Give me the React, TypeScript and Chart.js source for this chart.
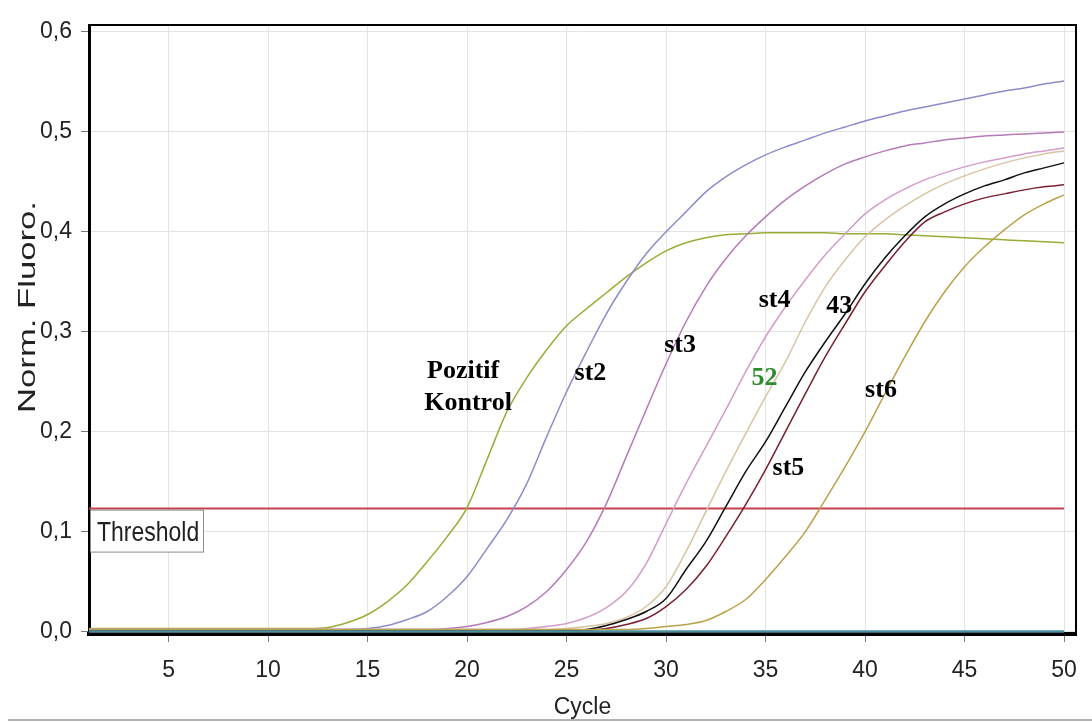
import React, { useEffect, useRef } from "react";
import { Chart, registerables } from "chart.js";

Chart.register(...registerables);

// ---------- data ----------
const cycles = [
  1, 2, 3, 4, 5, 6, 7, 8, 9, 10, 11, 12, 13, 14, 15, 16, 17, 18, 19, 20, 21, 22, 23, 24, 25,
  26, 27, 28, 29, 30, 31, 32, 33, 34, 35, 36, 37, 38, 39, 40, 41, 42, 43, 44, 45, 46, 47, 48, 49, 50,
];

const pozitifKontrol = [
  0.003, 0.003, 0.003, 0.003, 0.003, 0.003, 0.003, 0.003, 0.003, 0.003, 0.003, 0.003, 0.004, 0.009, 0.017,
  0.03, 0.047, 0.07, 0.095, 0.124, 0.172, 0.22, 0.254, 0.282, 0.306, 0.323, 0.339, 0.355, 0.369, 0.381,
  0.389, 0.394, 0.397, 0.398, 0.399, 0.399, 0.399, 0.399, 0.398, 0.398, 0.398, 0.397, 0.396, 0.395, 0.394,
  0.393, 0.392, 0.391, 0.39, 0.389,
];

const st2 = [
  0.002, 0.002, 0.002, 0.002, 0.002, 0.002, 0.002, 0.002, 0.002, 0.002, 0.002, 0.002, 0.002, 0.002, 0.003,
  0.006, 0.012, 0.02, 0.035, 0.055, 0.083, 0.112, 0.148, 0.195, 0.24, 0.28, 0.318, 0.35, 0.378, 0.4,
  0.42, 0.44, 0.455, 0.467, 0.477, 0.485, 0.492, 0.499, 0.505, 0.511, 0.516, 0.521, 0.525, 0.529, 0.533,
  0.537, 0.541, 0.544, 0.548, 0.551,
];

const st3 = [
  0.002, 0.002, 0.002, 0.002, 0.002, 0.002, 0.002, 0.002, 0.002, 0.002, 0.002, 0.002, 0.002, 0.002, 0.002,
  0.002, 0.002, 0.002, 0.003, 0.005, 0.009, 0.015, 0.025, 0.04, 0.062, 0.09, 0.128, 0.175, 0.222, 0.268,
  0.31, 0.345, 0.373, 0.396, 0.415, 0.432, 0.446, 0.458, 0.468, 0.475, 0.481, 0.486, 0.489, 0.492, 0.494,
  0.496, 0.497, 0.498, 0.499, 0.5,
];

const st4 = [
  0.002, 0.002, 0.002, 0.002, 0.002, 0.002, 0.002, 0.002, 0.002, 0.002, 0.002, 0.002, 0.002, 0.002, 0.002,
  0.002, 0.002, 0.002, 0.002, 0.002, 0.002, 0.002, 0.003, 0.005, 0.008, 0.014, 0.024, 0.04, 0.068, 0.108,
  0.148, 0.185, 0.222, 0.26, 0.295, 0.325, 0.352, 0.377, 0.398, 0.418, 0.432, 0.443, 0.452, 0.459, 0.465,
  0.47, 0.474, 0.478, 0.481, 0.484,
];

const sample52 = [
  0.002, 0.002, 0.002, 0.002, 0.002, 0.002, 0.002, 0.002, 0.002, 0.002, 0.002, 0.002, 0.002, 0.002, 0.002,
  0.002, 0.002, 0.002, 0.002, 0.002, 0.002, 0.002, 0.002, 0.002, 0.003, 0.005, 0.008, 0.014, 0.025, 0.045,
  0.08, 0.12, 0.16, 0.198, 0.235, 0.27, 0.31, 0.345, 0.372, 0.395, 0.412, 0.426, 0.438, 0.448, 0.456,
  0.463, 0.469, 0.474, 0.478, 0.481,
];

const sample43 = [
  0.001, 0.001, 0.001, 0.001, 0.001, 0.001, 0.001, 0.001, 0.001, 0.001, 0.001, 0.001, 0.001, 0.001, 0.001,
  0.001, 0.001, 0.001, 0.001, 0.001, 0.001, 0.001, 0.001, 0.001, 0.001, 0.002, 0.006, 0.012, 0.02, 0.033,
  0.062, 0.09, 0.125, 0.16, 0.19, 0.225, 0.26, 0.29, 0.318, 0.348, 0.374, 0.396, 0.415, 0.428, 0.438,
  0.446, 0.452, 0.459, 0.464, 0.469,
];

const st5 = [
  0.0, 0.0, 0.0, 0.0, 0.0, 0.0, 0.0, 0.0, 0.0, 0.0, 0.0, 0.0, 0.0, 0.0, 0.0,
  0.0, 0.0, 0.0, 0.0, 0.0, 0.0, 0.0, 0.0, 0.0, 0.0, 0.001, 0.003, 0.007, 0.013, 0.025,
  0.042, 0.065, 0.095, 0.127, 0.162, 0.2, 0.238, 0.275, 0.308, 0.34, 0.366, 0.39, 0.41, 0.42, 0.428,
  0.434, 0.438, 0.442, 0.445, 0.447,
];

const st6 = [
  0.002, 0.002, 0.002, 0.002, 0.002, 0.002, 0.002, 0.002, 0.002, 0.002, 0.002, 0.002, 0.002, 0.002, 0.002,
  0.002, 0.002, 0.002, 0.002, 0.002, 0.002, 0.002, 0.002, 0.002, 0.002, 0.002, 0.002, 0.002, 0.003, 0.005,
  0.007, 0.011, 0.02, 0.032, 0.052, 0.075, 0.1, 0.132, 0.165, 0.2, 0.238, 0.275, 0.31, 0.34, 0.365,
  0.385, 0.402, 0.417, 0.428, 0.437,
];

const negativeBaseline = [
  0.0, 0.0, 0.0, 0.0, 0.0, 0.0, 0.0, 0.0, 0.0, 0.0, 0.0, 0.0, 0.0, 0.0, 0.0,
  0.0, 0.0, 0.0, 0.0, 0.0, 0.0, 0.0, 0.0, 0.0, 0.0, 0.0, 0.0, 0.0, 0.0, 0.0,
  0.0, 0.0, 0.0, 0.0, 0.0, 0.0, 0.0, 0.0, 0.0, 0.0, 0.0, 0.0, 0.0, 0.0, 0.0,
  0.0, 0.0, 0.0, 0.0, 0.0,
];

const THRESHOLD = 0.123;
const thresholdCycles = [1, 50];

const xTickValues = [5, 10, 15, 20, 25, 30, 35, 40, 45, 50];
const yTickValues = [0, 0.1, 0.2, 0.3, 0.4, 0.5, 0.6];

const X_TITLE = "Cycle";
const Y_TITLE = "Norm. Fluoro.";

// text labels placed on the plot (cycle, value of text baseline)
const curveLabels = [
  { text: "Pozitif", x: 19.8, y: 0.254, color: "#000000" },
  { text: "Kontrol", x: 20.05, y: 0.222, color: "#000000" },
  { text: "st2", x: 26.2, y: 0.252, color: "#000000" },
  { text: "st3", x: 30.7, y: 0.28, color: "#000000" },
  { text: "st4", x: 35.45, y: 0.325, color: "#000000" },
  { text: "43", x: 38.7, y: 0.319, color: "#000000" },
  { text: "52", x: 34.95, y: 0.247, color: "#2e8b2e" },
  { text: "st5", x: 36.15, y: 0.157, color: "#000000" },
  { text: "st6", x: 40.8, y: 0.235, color: "#000000" },
];

const SANS = '"Liberation Sans", Arial, sans-serif';
const SERIF = '"Liberation Serif", "DejaVu Serif", serif';
const TEXT_COLOR = "#222222";

function toPoints(values: number[]) {
  return values.map((v, i) => ({ x: cycles[i], y: v }));
}

const decorPlugin = {
  id: "decor",
  afterDatasetsDraw(chart: any) {
    const { ctx, chartArea: a, scales } = chart;
    const x = scales.x;
    const y = scales.y;
    ctx.save();
    // top and right frame
    ctx.strokeStyle = "#000";
    ctx.lineWidth = 2;
    ctx.beginPath();
    ctx.moveTo(a.left, a.top);
    ctx.lineTo(a.right, a.top);
    ctx.lineTo(a.right, a.bottom);
    ctx.stroke();

    // threshold box
    const ty = y.getPixelForValue(THRESHOLD);
    ctx.fillStyle = "#ffffff";
    ctx.fillRect(a.left + 1, ty + 2, 113, 41);
    ctx.strokeStyle = "#8a8a8a";
    ctx.lineWidth = 1;
    ctx.strokeRect(a.left + 1.5, ty + 1.5, 113, 42);
    ctx.save();
    ctx.font = `23px ${SANS}`;
    ctx.fillStyle = TEXT_COLOR;
    ctx.textAlign = "left";
    ctx.textBaseline = "alphabetic";
    ctx.translate(a.left + 8, ty + 32);
    ctx.scale(1, 1.2);
    ctx.fillText("Threshold", 0, 0);
    ctx.restore();

    // curve labels
    ctx.font = `bold 26px ${SERIF}`;
    ctx.textAlign = "center";
    ctx.textBaseline = "alphabetic";
    for (const l of curveLabels) {
      ctx.fillStyle = l.color;
      ctx.fillText(l.text, x.getPixelForValue(l.x), y.getPixelForValue(l.y));
    }
    ctx.restore();
  },
  afterDraw(chart: any) {
    const { ctx, width } = chart;
    ctx.save();
    // y axis title (stretched along its length like the reference)
    ctx.font = `24px ${SANS}`;
    ctx.fillStyle = TEXT_COLOR;
    ctx.textAlign = "center";
    ctx.textBaseline = "alphabetic";
    const w = ctx.measureText(Y_TITLE).width;
    ctx.translate(35, 307);
    ctx.rotate(-Math.PI / 2);
    ctx.scale(212 / w, 1);
    ctx.fillText(Y_TITLE, 0, 0);
    ctx.restore();

    ctx.save();
    ctx.strokeStyle = "#b4b4b4";
    ctx.lineWidth = 2;
    ctx.beginPath();
    ctx.moveTo(8, 720);
    ctx.lineTo(width, 720);
    ctx.stroke();
    ctx.restore();
  },
};

export default function App() {
  const canvasRef = useRef<HTMLCanvasElement | null>(null);

  useEffect(() => {
    if (!canvasRef.current) return;
    const line = (label: string, values: number[], color: string, width = 1.5) => ({
      label,
      data: toPoints(values),
      borderColor: color,
      backgroundColor: color,
      borderWidth: width,
      pointRadius: 0,
      fill: false,
      cubicInterpolationMode: "monotone" as const,
    });

    const chart = new Chart(canvasRef.current, {
      type: "line",
      data: {
        datasets: [
          line("Negative", negativeBaseline, "#4a8f9c", 2.5),
          line("st6", st6, "#b9a24a"),
          line("st5", st5, "#7a1f30"),
          line("43", sample43, "#111111"),
          line("52", sample52, "#d9c3a2"),
          line("st4", st4, "#d29ccb"),
          line("st3", st3, "#b57ab8"),
          line("st2", st2, "#8a8ccc"),
          line("Pozitif Kontrol", pozitifKontrol, "#9aab36"),
          {
            label: "Threshold",
            data: thresholdCycles.map((c) => ({ x: c, y: THRESHOLD })),
            borderColor: "#c8404f",
            borderWidth: 2,
            pointRadius: 0,
            fill: false,
          },
        ],
      },
      options: {
        animation: false,
        responsive: false,
        devicePixelRatio: 1,
        layout: { padding: { top: 25, right: 11, left: 0, bottom: 0 } },
        plugins: {
          legend: { display: false },
          tooltip: { enabled: false },
        },
        scales: {
          x: {
            type: "linear",
            min: 1,
            max: 50.6,
            afterBuildTicks: (scale: any) => {
              scale.ticks = xTickValues.map((v) => ({ value: v }));
            },
            afterFit: (scale: any) => {
              scale.height = 88;
            },
            grid: { color: "#e3e3e3", lineWidth: 1, tickColor: "#7a7a7a", tickLength: 8 },
            border: { display: true, color: "#000", width: 4 },
            ticks: {
              color: TEXT_COLOR,
              padding: 15,
              maxRotation: 0,
              autoSkip: false,
              font: { family: SANS, size: 23 },
              callback: (v: any) => String(v),
            },
            title: {
              display: true,
              text: X_TITLE,
              color: TEXT_COLOR,
              font: { family: SANS, size: 23 },
              padding: { top: 0, bottom: 1 },
            },
          },
          y: {
            type: "linear",
            min: -0.0025,
            max: 0.607,
            afterBuildTicks: (scale: any) => {
              scale.ticks = yTickValues.map((v) => ({ value: v }));
            },
            afterFit: (scale: any) => {
              scale.width = 89;
            },
            grid: { color: "#e3e3e3", lineWidth: 1, tickColor: "#7a7a7a", tickLength: 8 },
            border: { display: true, color: "#000", width: 3 },
            ticks: {
              color: TEXT_COLOR,
              padding: 9,
              autoSkip: false,
              font: { family: SANS, size: 23 },
              callback: (v: any) => Number(v).toFixed(1).replace(".", ","),
            },
            title: { display: false },
          },
        },
      },
      plugins: [decorPlugin],
    });
    return () => chart.destroy();
  }, []);

  return (
    <div style={{ position: "absolute", left: 0, top: 0, width: 1092, height: 722, background: "#fff" }}>
      <canvas ref={canvasRef} width={1092} height={722} />
    </div>
  );
}
